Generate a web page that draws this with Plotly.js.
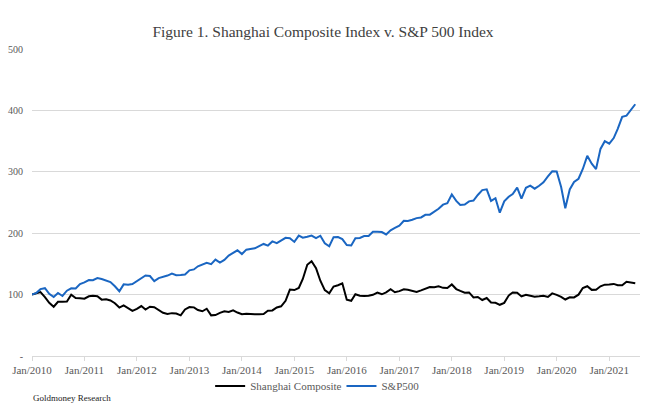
<!DOCTYPE html>
<html>
<head>
<meta charset="utf-8">
<script src="https://cdn.plot.ly/plotly-3.0.1.min.js"></script>
<style>html,body{margin:0;padding:0;background:#fff;}#chart{width:646px;height:409px;}</style>
</head>
<body>
<div id="chart"></div>
<script>
// Monthly index values, Jan 2010 = 100 (Jan 2010 .. Jul 2021)
var startYear = 2010;
var shanghai = [
  100, 102.0, 104.0, 96.0, 86.7, 80.2, 88.3, 88.3, 88.8, 99.7, 94.3, 93.9,
  93.3, 97.2, 98.0, 97.4, 91.8, 92.4, 90.4, 85.9, 78.9, 82.6, 78.1, 73.6,
  76.7, 81.3, 75.7, 80.2, 79.4, 74.4, 70.4, 68.5, 69.8, 69.2, 66.2, 75.9,
  79.8, 79.2, 74.8, 72.9, 77.0, 66.2, 66.7, 70.2, 72.8, 71.6, 74.3, 70.8,
  68.0, 68.8, 68.0, 67.8, 68.2, 68.5, 73.7, 74.2, 79.1, 81.0, 89.8, 108.2,
  107.4, 110.7, 125.4, 148.6, 154.3, 143.1, 122.6, 107.3, 102.1, 113.2, 115.3, 118.4,
  91.6, 89.9, 100.5, 98.3, 97.6, 98.0, 99.7, 103.2, 100.5, 103.7, 108.7, 103.8,
  105.7, 108.5, 107.8, 105.5, 104.3, 106.8, 109.5, 112.4, 112.0, 113.5, 111.0, 110.6,
  116.5, 109.0, 106.0, 103.1, 103.5, 95.3, 96.2, 91.2, 94.4, 87.1, 86.6, 83.4,
  86.5, 98.4, 103.4, 103.0, 97.0, 99.7, 98.1, 96.6, 97.2, 98.0, 96.1, 102.0,
  99.6, 96.4, 92.0, 95.7, 95.4, 99.9, 110.7, 113.6, 107.7, 107.9, 113.5, 116.2,
  116.5, 117.4, 115.2, 115.3, 120.9, 120.1, 118.5
];
var sp500 = [
  100, 102.9, 108.9, 110.5, 101.4, 96.0, 102.6, 97.7, 106.3, 110.2, 109.9, 117.1,
  119.8, 123.6, 123.5, 127.0, 125.3, 123.0, 120.3, 113.5, 105.4, 116.7, 116.1, 117.1,
  122.2, 127.2, 131.2, 130.2, 122.0, 126.8, 128.4, 131.0, 134.2, 131.5, 131.9, 132.8,
  139.5, 141.0, 146.1, 148.8, 151.9, 149.6, 157.0, 152.1, 156.6, 163.6, 168.2, 172.1,
  166.0, 173.2, 174.4, 175.4, 179.1, 182.5, 179.8, 186.6, 183.7, 187.9, 192.5, 191.7,
  185.8, 196.0, 192.6, 194.2, 196.2, 192.1, 195.9, 183.7, 178.8, 193.6, 193.7, 190.3,
  180.7, 179.9, 191.8, 192.3, 195.3, 195.4, 202.4, 202.2, 201.9, 198.0, 204.8, 208.5,
  212.2, 220.1, 220.0, 222.0, 224.6, 225.7, 230.0, 230.2, 234.6, 239.8, 246.5, 249.0,
  263.0, 252.7, 245.9, 246.6, 251.9, 253.1, 262.3, 270.2, 271.4, 252.5, 257.0, 233.4,
  251.8, 259.3, 263.9, 274.3, 256.3, 273.9, 277.5, 272.5, 277.2, 282.9, 292.5, 300.9,
  300.4, 275.1, 240.7, 271.2, 283.5, 288.7, 304.6, 326.0, 313.2, 304.5, 337.3, 349.8,
  345.9, 354.9, 370.0, 389.4, 391.5, 400.2, 410.0
];
var yTickVals = [0, 100, 200, 300, 400, 500];
var yTickText = ['-', '100', '200', '300', '400', '500'];

function pad(n){ return n < 10 ? '0' + n : '' + n; }
var months = [];
for (var i = 0; i < sp500.length; i++) {
  var y = startYear + Math.floor(i / 12), m = (i % 12) + 1;
  months.push(y + '-' + pad(m) + '-01');
}

var serif = '"Liberation Serif", "DejaVu Serif", serif';
var legFont = {family: serif, size: 11, color: '#595959'};

var traces = [
  {x: months, y: shanghai, type: 'scatter', mode: 'lines', name: 'Shanghai Composite',
   line: {color: '#000000', width: 2}, legend: 'legend'},
  {x: months, y: sp500, type: 'scatter', mode: 'lines', name: 'S&P500',
   line: {color: '#1a66c2', width: 2}, legend: 'legend2'}
];

var layout = {
  width: 646, height: 409,
  margin: {l: 32, r: 6, t: 49, b: 53},
  paper_bgcolor: '#ffffff', plot_bgcolor: '#ffffff',
  font: {family: serif, color: '#595959', size: 11},
  title: {text: 'Figure 1. Shanghai Composite Index v. S&P 500 Index',
          font: {family: serif, size: 15.5, color: '#404040'},
          x: 0.5, xanchor: 'center', y: 0.924, yanchor: 'middle', yref: 'container'},
  xaxis: {type: 'date', range: ['2010-01-01', '2021-08-03'],
          tick0: '2010-01-01', dtick: 'M12', tickformat: '%b/%Y',
          showgrid: false, showline: true, linecolor: '#d9d9d9', linewidth: 1,
          ticks: 'outside', ticklen: 4, tickcolor: '#d9d9d9',
          tickfont: {family: serif, size: 11, color: '#595959'}, zeroline: false},
  yaxis: {range: [0, 500], tickvals: yTickVals, ticktext: yTickText,
          showgrid: true, gridcolor: '#d9d9d9', gridwidth: 1, zeroline: false,
          showline: false, ticks: '', ticklabelstandoff: 8,
          tickfont: {family: serif, size: 10, color: '#595959'}},
  showlegend: true,
  legend: {orientation: 'h', x: 0.293, xanchor: 'left', y: -0.098, yanchor: 'middle',
           font: legFont, bgcolor: 'rgba(0,0,0,0)'},
  legend2: {orientation: 'h', x: 0.509, xanchor: 'left', y: -0.098, yanchor: 'middle',
           font: legFont, bgcolor: 'rgba(0,0,0,0)'},
  annotations: [{text: 'Goldmoney Research', xref: 'paper', yref: 'paper',
                 x: -0.002, y: -0.137, xanchor: 'left', yanchor: 'middle', showarrow: false,
                 font: {family: serif, size: 9, color: '#222222'}}]
};

Plotly.newPlot('chart', traces, layout, {displayModeBar: false, staticPlot: true});
</script>
</body>
</html>
